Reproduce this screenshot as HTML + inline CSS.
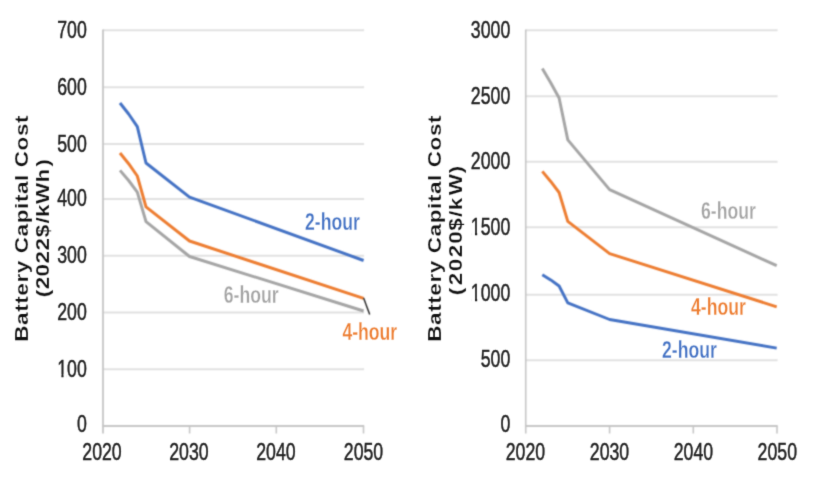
<!DOCTYPE html>
<html lang="en">
<head>
<meta charset="utf-8">
<title>Battery Capital Cost</title>
<style>
html,body{margin:0;padding:0;background:#fff;}
body{width:815px;height:483px;overflow:hidden;}
svg{display:block;font-family:"Liberation Sans",Arial,Helvetica,sans-serif;}
</style>
</head>
<body>
<svg width="815" height="483" viewBox="0 0 815 483">
<defs>
<filter id="soft" x="0" y="0" width="815" height="483" filterUnits="userSpaceOnUse" color-interpolation-filters="sRGB"><feConvolveMatrix order="5" kernelMatrix="0.00003 0.00101 0.00331 0.00101 0.00003 0.00101 0.03529 0.11525 0.03529 0.00101 0.00331 0.11525 0.37636 0.11525 0.00331 0.00101 0.03529 0.11525 0.03529 0.00101 0.00003 0.00101 0.00331 0.00101 0.00003" divisor="1" edgeMode="duplicate" preserveAlpha="false"/></filter>
<filter id="softer" x="0" y="0" width="815" height="483" filterUnits="userSpaceOnUse" color-interpolation-filters="sRGB"><feConvolveMatrix order="5" kernelMatrix="0.00000 0.00006 0.00035 0.00006 0.00000 0.00006 0.01430 0.09087 0.01430 0.00006 0.00035 0.09087 0.57743 0.09087 0.00035 0.00006 0.01430 0.09087 0.01430 0.00006 0.00000 0.00006 0.00035 0.00006 0.00000" divisor="1" edgeMode="duplicate" preserveAlpha="false"/></filter>
</defs>
<rect x="0" y="0" width="815" height="483" fill="#ffffff"/>
<g filter="url(#soft)">
<line x1="103.0" y1="369.15" x2="364.10" y2="369.15" stroke="#e1e1e1" stroke-width="2.0"/>
<line x1="103.0" y1="312.40" x2="364.10" y2="312.40" stroke="#e1e1e1" stroke-width="2.0"/>
<line x1="103.0" y1="255.65" x2="364.10" y2="255.65" stroke="#e1e1e1" stroke-width="2.0"/>
<line x1="103.0" y1="198.95" x2="364.10" y2="198.95" stroke="#e1e1e1" stroke-width="2.0"/>
<line x1="103.0" y1="143.90" x2="364.10" y2="143.90" stroke="#e1e1e1" stroke-width="2.0"/>
<line x1="103.0" y1="87.25" x2="364.10" y2="87.25" stroke="#e1e1e1" stroke-width="2.0"/>
<line x1="103.0" y1="30.33" x2="364.10" y2="30.33" stroke="#e1e1e1" stroke-width="2.0"/>
<line x1="103.0" y1="29.43" x2="103.0" y2="433.50" stroke="#c6c6c6" stroke-width="1.8"/>
<line x1="102.20" y1="425.90" x2="364.20" y2="425.90" stroke="#c6c6c6" stroke-width="2.0"/>
<line x1="189.60" y1="425.90" x2="189.60" y2="433.50" stroke="#c6c6c6" stroke-width="1.60"/>
<line x1="276.30" y1="425.90" x2="276.30" y2="433.50" stroke="#c6c6c6" stroke-width="1.60"/>
<line x1="363.50" y1="425.90" x2="363.50" y2="433.50" stroke="#c6c6c6" stroke-width="1.60"/>
<polyline points="120.00,170.40 128.65,180.50 137.30,192.20 146.00,221.70 189.50,256.50 363.60,311.00" fill="none" stroke="#a5a5a5" stroke-width="2.95" stroke-linejoin="round" stroke-linecap="butt"/>
<polyline points="120.00,153.00 128.65,163.70 137.30,176.00 146.00,206.80 189.50,241.00 363.60,298.40" fill="none" stroke="#ed7d31" stroke-width="2.95" stroke-linejoin="round" stroke-linecap="butt"/>
<polyline points="120.00,103.00 128.65,114.00 137.30,126.60 146.00,163.00 189.50,197.10 363.60,260.50" fill="none" stroke="#4472c4" stroke-width="2.95" stroke-linejoin="round" stroke-linecap="butt"/>
<line x1="525.75" y1="360.25" x2="777.60" y2="360.25" stroke="#e1e1e1" stroke-width="2.0"/>
<line x1="525.75" y1="294.63" x2="777.60" y2="294.63" stroke="#e1e1e1" stroke-width="2.0"/>
<line x1="525.75" y1="227.25" x2="777.60" y2="227.25" stroke="#e1e1e1" stroke-width="2.0"/>
<line x1="525.75" y1="161.78" x2="777.60" y2="161.78" stroke="#e1e1e1" stroke-width="2.0"/>
<line x1="525.75" y1="96.14" x2="777.60" y2="96.14" stroke="#e1e1e1" stroke-width="2.0"/>
<line x1="525.75" y1="30.33" x2="777.60" y2="30.33" stroke="#e1e1e1" stroke-width="2.0"/>
<line x1="525.75" y1="29.43" x2="525.75" y2="433.50" stroke="#c6c6c6" stroke-width="1.6"/>
<line x1="524.95" y1="425.90" x2="777.70" y2="425.90" stroke="#c6c6c6" stroke-width="2.0"/>
<line x1="609.60" y1="425.90" x2="609.60" y2="433.50" stroke="#c6c6c6" stroke-width="1.60"/>
<line x1="693.30" y1="425.90" x2="693.30" y2="433.50" stroke="#c6c6c6" stroke-width="1.60"/>
<line x1="777.00" y1="425.90" x2="777.00" y2="433.50" stroke="#c6c6c6" stroke-width="1.60"/>
<polyline points="542.30,68.40 550.70,82.70 559.10,98.00 567.80,139.90 609.60,189.60 776.70,265.70" fill="none" stroke="#a5a5a5" stroke-width="2.95" stroke-linejoin="round" stroke-linecap="butt"/>
<polyline points="542.30,171.40 550.70,181.45 559.10,192.50 567.80,221.40 609.60,253.70 776.70,306.80" fill="none" stroke="#ed7d31" stroke-width="2.95" stroke-linejoin="round" stroke-linecap="butt"/>
<polyline points="542.30,274.80 550.70,279.90 559.10,286.00 567.80,302.90 609.60,319.50 776.70,348.10" fill="none" stroke="#4472c4" stroke-width="2.95" stroke-linejoin="round" stroke-linecap="butt"/>
<line x1="363.6" y1="298.0" x2="369.7" y2="314.4" stroke="#262626" stroke-width="1.45"/>
</g>
<g filter="url(#softer)">
<text transform="translate(86.80 432.05) scale(0.715 1)" font-size="24.8" fill="#222222" text-anchor="end" font-weight="normal" stroke="#222222" stroke-width="0.5">0</text>
<text transform="translate(86.80 376.70) scale(0.715 1)" font-size="24.8" fill="#222222" text-anchor="end" font-weight="normal" stroke="#222222" stroke-width="0.5">100</text>
<text transform="translate(86.80 319.95) scale(0.715 1)" font-size="24.8" fill="#222222" text-anchor="end" font-weight="normal" stroke="#222222" stroke-width="0.5">200</text>
<text transform="translate(86.80 263.20) scale(0.715 1)" font-size="24.8" fill="#222222" text-anchor="end" font-weight="normal" stroke="#222222" stroke-width="0.5">300</text>
<text transform="translate(86.80 206.20) scale(0.715 1)" font-size="24.8" fill="#222222" text-anchor="end" font-weight="normal" stroke="#222222" stroke-width="0.5">400</text>
<text transform="translate(86.80 152.05) scale(0.715 1)" font-size="24.8" fill="#222222" text-anchor="end" font-weight="normal" stroke="#222222" stroke-width="0.5">500</text>
<text transform="translate(86.80 94.80) scale(0.715 1)" font-size="24.8" fill="#222222" text-anchor="end" font-weight="normal" stroke="#222222" stroke-width="0.5">600</text>
<text transform="translate(86.80 37.88) scale(0.715 1)" font-size="24.8" fill="#222222" text-anchor="end" font-weight="normal" stroke="#222222" stroke-width="0.5">700</text>
<text transform="translate(102.00 460.30) scale(0.715 1)" font-size="24.8" fill="#222222" text-anchor="middle" font-weight="normal" stroke="#222222" stroke-width="0.5">2020</text>
<text transform="translate(188.93 460.30) scale(0.715 1)" font-size="24.8" fill="#222222" text-anchor="middle" font-weight="normal" stroke="#222222" stroke-width="0.5">2030</text>
<text transform="translate(275.96 460.30) scale(0.715 1)" font-size="24.8" fill="#222222" text-anchor="middle" font-weight="normal" stroke="#222222" stroke-width="0.5">2040</text>
<text transform="translate(363.49 460.30) scale(0.715 1)" font-size="24.8" fill="#222222" text-anchor="middle" font-weight="normal" stroke="#222222" stroke-width="0.5">2050</text>
<text transform="translate(510.30 431.95) scale(0.715 1)" font-size="24.8" fill="#222222" text-anchor="end" font-weight="normal" stroke="#222222" stroke-width="0.5">0</text>
<text transform="translate(510.30 366.80) scale(0.715 1)" font-size="24.8" fill="#222222" text-anchor="end" font-weight="normal" stroke="#222222" stroke-width="0.5">500</text>
<text transform="translate(510.30 300.98) scale(0.715 1)" font-size="24.8" fill="#222222" text-anchor="end" font-weight="normal" stroke="#222222" stroke-width="0.5">1000</text>
<text transform="translate(510.30 234.80) scale(0.715 1)" font-size="24.8" fill="#222222" text-anchor="end" font-weight="normal" stroke="#222222" stroke-width="0.5">1500</text>
<text transform="translate(510.30 169.33) scale(0.715 1)" font-size="24.8" fill="#222222" text-anchor="end" font-weight="normal" stroke="#222222" stroke-width="0.5">2000</text>
<text transform="translate(510.30 103.69) scale(0.715 1)" font-size="24.8" fill="#222222" text-anchor="end" font-weight="normal" stroke="#222222" stroke-width="0.5">2500</text>
<text transform="translate(510.30 38.28) scale(0.715 1)" font-size="24.8" fill="#222222" text-anchor="end" font-weight="normal" stroke="#222222" stroke-width="0.5">3000</text>
<text transform="translate(525.45 460.30) scale(0.715 1)" font-size="24.8" fill="#222222" text-anchor="middle" font-weight="normal" stroke="#222222" stroke-width="0.5">2020</text>
<text transform="translate(609.50 460.30) scale(0.715 1)" font-size="24.8" fill="#222222" text-anchor="middle" font-weight="normal" stroke="#222222" stroke-width="0.5">2030</text>
<text transform="translate(693.40 460.30) scale(0.715 1)" font-size="24.8" fill="#222222" text-anchor="middle" font-weight="normal" stroke="#222222" stroke-width="0.5">2040</text>
<text transform="translate(777.30 460.30) scale(0.715 1)" font-size="24.8" fill="#222222" text-anchor="middle" font-weight="normal" stroke="#222222" stroke-width="0.5">2050</text>
<text transform="translate(305.00 230.20) scale(0.72 1)" font-size="24.5" fill="#4472c4" text-anchor="start" font-weight="bold" stroke="#fff" stroke-width="0.3">2-hour</text>
<text transform="translate(342.40 340.30) scale(0.72 1)" font-size="24.5" fill="#ed7d31" text-anchor="start" font-weight="bold" stroke="#fff" stroke-width="0.3">4-hour</text>
<text transform="translate(223.80 303.00) scale(0.72 1)" font-size="24.5" fill="#a5a5a5" text-anchor="start" font-weight="bold" stroke="#fff" stroke-width="0.3">6-hour</text>
<text transform="translate(701.00 219.20) scale(0.72 1)" font-size="24.5" fill="#a5a5a5" text-anchor="start" font-weight="bold" stroke="#fff" stroke-width="0.3">6-hour</text>
<text transform="translate(691.00 315.00) scale(0.72 1)" font-size="24.5" fill="#ed7d31" text-anchor="start" font-weight="bold" stroke="#fff" stroke-width="0.3">4-hour</text>
<text transform="translate(662.00 357.80) scale(0.72 1)" font-size="24.5" fill="#4472c4" text-anchor="start" font-weight="bold" stroke="#fff" stroke-width="0.3">2-hour</text>
<text transform="translate(28.2 228.3) rotate(-90) scale(1 0.8)" font-size="22.5" font-weight="bold" fill="#111" stroke="#fff" stroke-width="0.22" text-anchor="middle" letter-spacing="0.6" word-spacing="0">Battery Capital Cost</text>
<text transform="translate(48.6 226.0) rotate(-90) scale(1 0.8)" font-size="22.5" font-weight="bold" fill="#111" stroke="#fff" stroke-width="0.22" text-anchor="middle" letter-spacing="0.3" word-spacing="-4.5" dx="-2.0 0.3 0 0.1 0.1 0.5 1.0">(2022$/kWh )</text>
<text transform="translate(441.2 228.3) rotate(-90) scale(1 0.8)" font-size="22.5" font-weight="bold" fill="#111" stroke="#fff" stroke-width="0.22" text-anchor="middle" letter-spacing="0.6" word-spacing="0">Battery Capital Cost</text>
<text transform="translate(461.6 226.9) rotate(-90) scale(1 0.8)" font-size="22.5" font-weight="bold" fill="#111" stroke="#fff" stroke-width="0.22" text-anchor="middle" letter-spacing="1.0" word-spacing="0" dx="-3 1.5 0.5 0.5 -0.2 -0.5 0.2 -0.5 1.5 0">(2020$/kW)</text>
<rect x="57.87" y="374.45" width="3.51" height="3.90" fill="#fff"/>
<rect x="63.54" y="374.45" width="3.37" height="3.90" fill="#fff"/>
<rect x="471.50" y="298.73" width="3.51" height="3.90" fill="#fff"/>
<rect x="477.18" y="298.73" width="3.37" height="3.90" fill="#fff"/>
<rect x="471.50" y="232.55" width="3.51" height="3.90" fill="#fff"/>
<rect x="477.18" y="232.55" width="3.37" height="3.90" fill="#fff"/>
</g>
</svg>
</body>
</html>
